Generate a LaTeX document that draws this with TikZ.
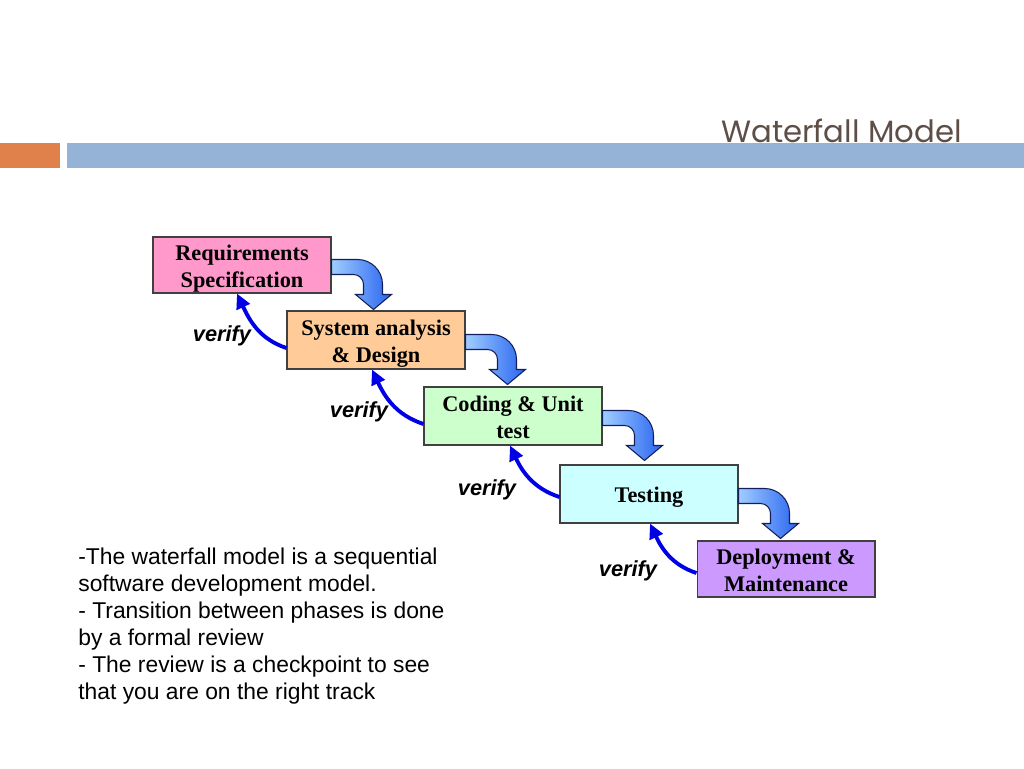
\documentclass[tikz,border=0pt]{standalone}
\usepackage{fontspec}
\setmainfont{Liberation Serif}
\newfontfamily\arialfont{Liberation Sans}
\newfontfamily\titlefont{Poppins}
\usetikzlibrary{arrows.meta,positioning,calc}
\definecolor{reqpink}{RGB}{255, 153, 204}
\definecolor{syspeach}{RGB}{255, 204, 153}
\definecolor{codegreen}{RGB}{204, 255, 204}
\definecolor{testcyan}{RGB}{204, 255, 255}
\definecolor{deploylilac}{RGB}{204, 153, 255}
\definecolor{verifyblue}{RGB}{0, 0, 230}
\definecolor{fatlight}{RGB}{160, 205, 255}
\definecolor{fatdark}{RGB}{40, 100, 240}
\definecolor{fatedge}{RGB}{20, 30, 90}
\definecolor{barorange}{RGB}{224, 128, 74}
\definecolor{barblue}{RGB}{149, 179, 215}
\definecolor{titlegray}{RGB}{94, 78, 72}

% phase caption, set a little low like the original
\newcommand{\phasetext}[1]{\raisebox{-5pt}[0pt][0pt]{\begin{tabular}{@{}c@{}}#1\end{tabular}}}

% bent block arrow between two phases
\tikzset{
  fatarrow/.pic={
    \shade[left color=fatlight, right color=fatdark, draw=fatedge, line width=0.6pt]
      (0,0) -- (26,0) .. controls (39.8,0) and (51,11.2) .. (51,25) -- (51,35)
      -- (60,35) -- (42,50) -- (24,35) -- (32,35) -- (32,25)
      .. controls (32,19.5) and (27.5,15) .. (22,15) -- (0,15) -- cycle;
  }
}

\begin{document}
\begin{tikzpicture}[
    x=0.02cm, y=-0.02cm,
    phase/.style={rectangle, draw=black!75, line width=0.6pt, minimum width=3.56cm, minimum height=1.16cm,
      inner sep=0pt, font=\fontsize{12.7}{15.3}\selectfont\bfseries},
    verifyarrow/.style={-{Triangle[length=8.5pt,width=8pt]}, draw=verifyblue, line width=2.2pt},
    verifylabel/.style={font=\arialfont\fontsize{12.4}{14}\selectfont\bfseries\itshape}
]
    \useasboundingbox (0,0) rectangle (1024,768);

    % Header
    \fill[barorange] (0,143) rectangle (60,168);
    \fill[barblue] (67,143) rectangle (1024,168);
    \node[anchor=base east, text=titlegray, inner sep=0pt, font=\titlefont\fontsize{17.5}{20}\selectfont] (title) at (962,142) {Waterfall Model};

    % Phases
    \node[phase, fill=reqpink, minimum height=1.12cm] (req) at (242,265) {\phasetext{Requirements\\Specification}};
    \node[phase, fill=syspeach] (sys) at (376,340) {\phasetext{System analysis\\\& Design}};
    \node[phase, fill=codegreen] (code) at (513,416) {\phasetext{Coding \& Unit\\test}};
    \node[phase, fill=testcyan] (test) at (649,494) {\phasetext{Testing}};
    \node[phase, fill=deploylilac, minimum height=1.12cm] (deploy) at (786,569) {\phasetext{Deployment \&\\Maintenance}};

    % Bent arrows
    \pic at ($(req.north east)+(0,23)$) {fatarrow};
    \pic at ($(sys.north east)+(0,24)$) {fatarrow};
    \pic at ($(code.north east)+(0,24)$) {fatarrow};
    \pic at ($(test.north east)+(0,24)$) {fatarrow};

    % Verify arrows
    \draw[verifyarrow] ($(sys.west)+(0,8)$) to[out=162, in=-65] ($(req.south)+(-5,0)$);
    \draw[verifyarrow] ($(code.west)+(0,8)$) to[out=162, in=-65] ($(sys.south)+(-4,0)$);
    \draw[verifyarrow] ($(test.west)+(0,3)$) to[out=162, in=-65] ($(code.south)+(-3,0)$);
    \draw[verifyarrow] ($(deploy.west)+(0,4)$) to[out=162, in=-65] ($(test.south)+(1,0)$);

    % Labels
    \node[verifylabel] (v1) at (222,336) {verify};
    \node[verifylabel] (v2) at (359,412) {verify};
    \node[verifylabel] (v3) at (487,490) {verify};
    \node[verifylabel] (v4) at (628,571) {verify};

    % Notes
    \node[anchor=base west, inner sep=0pt, align=left, font=\arialfont\fontsize{13}{15.3}\selectfont] (notes) at (78,699)
      {-The waterfall model is a sequential\\software development model.\\- Transition between phases is done\\by a formal review\\- The review is a checkpoint to see\\that you are on the right track};
\end{tikzpicture}
\end{document}
